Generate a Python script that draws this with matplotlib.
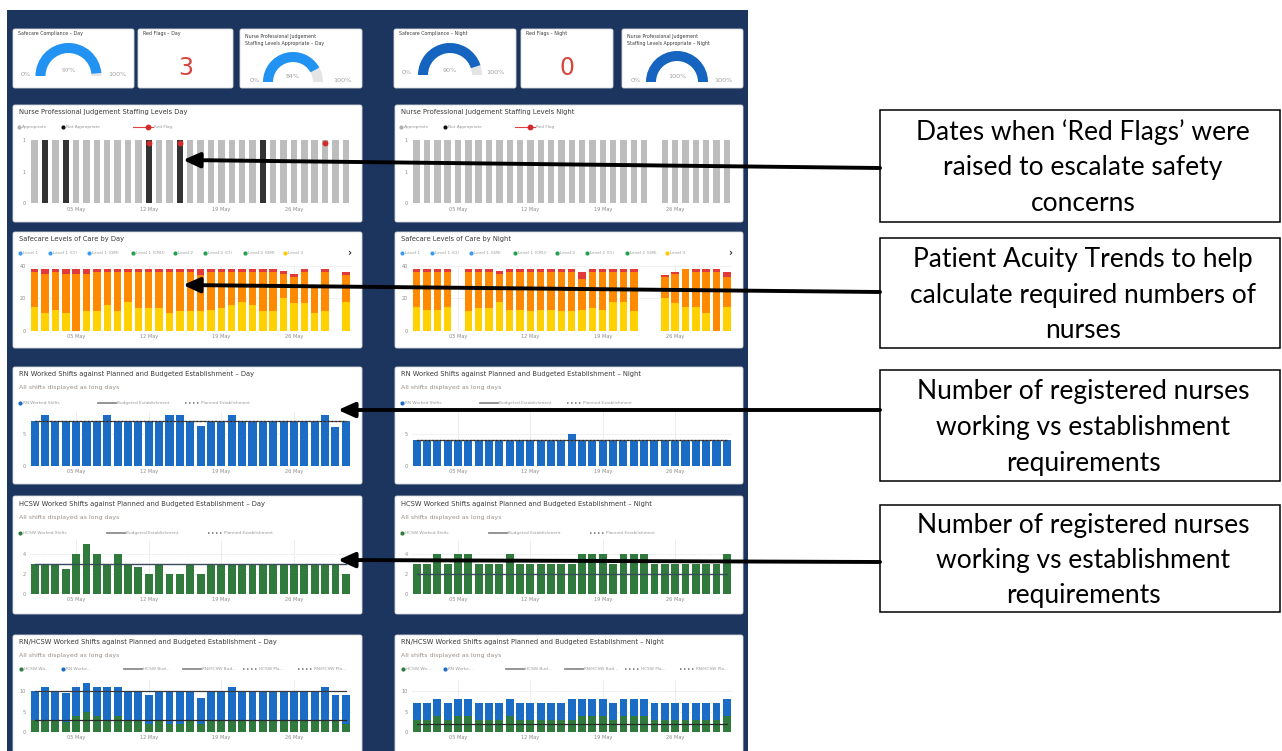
import numpy as np
import matplotlib
matplotlib.use("Agg")
import matplotlib.pyplot as plt
from matplotlib.patches import Rectangle, Wedge, FancyBboxPatch

W, H = 1282, 751
NAVY = "#1b355e"
TITLE_C = "#3c3c3c"
TICK_C = "#8a8a8a"

days = np.arange(1, 32)
week_ticks = [5, 12, 19, 26]
week_labels = ["05 May", "12 May", "19 May", "26 May"]

# headline cards
safecare_compliance_day = 97
safecare_compliance_night = 90
red_flags_day = 3
red_flags_night = 0
npj_appropriate_day = 84
npj_appropriate_night = 100

# nurse professional judgement by date
npj_not_appropriate_day = [2, 4, 12, 15, 23]
red_flag_dates_day = [12, 15, 29]
npj_no_return_night = [24]

# safecare levels of care (low / mid / high acuity bands)
sc_day_low = [15, 11, 13, 11, 0, 12, 12, 16, 12, 18, 14, 14, 14, 11, 12, 12,
              12, 13, 14, 16, 18, 16, 12, 12, 20, 17, 17, 11, 12, 0, 18]
sc_day_mid = [21, 24, 23, 24, 35, 23, 24, 20, 24, 18, 22, 22, 22, 25, 24, 24,
              22, 23, 22, 20, 18, 20, 24, 24, 15, 16, 19, 15.5, 24, 0, 16]
sc_day_high = [2, 3, 2, 3, 3, 3, 2, 2, 2, 2, 2, 2, 2, 2, 2, 2,
               4, 2, 2, 2, 2, 2, 2, 2, 2, 2, 2, 1.5, 2, 0, 2]
sc_night_low = [15, 13, 13, 15, 0, 12, 14, 14, 18, 13, 13, 12, 13, 13, 12, 12,
                13, 14, 13, 18, 18, 12, 0, 0, 20, 17, 15, 15, 11, 0, 15]
sc_night_mid = [21, 23, 23, 21, 0, 24, 22, 22, 17, 23, 23, 24, 23, 23, 24, 24,
                19, 22, 23, 18, 18, 24, 0, 0, 13, 18, 23, 21, 25, 36, 18]
sc_night_high = [2, 2, 2, 2, 0, 2, 2, 2, 2, 2, 2, 2, 2, 2, 2, 2,
                 4, 2, 2, 2, 2, 2, 0, 0, 1, 1, 0, 2, 2, 2, 3]

# worked shifts
rn_day = [7, 8, 7, 7, 7, 7, 7, 8, 7, 7, 7, 7, 7, 8, 8, 7,
          6.3, 7, 7, 8, 7, 7, 7, 7, 7, 7, 7, 7, 8, 6, 7]
rn_night = [4, 4, 4, 4, 4, 4, 4, 4, 4, 4, 4, 4, 4, 4, 4, 5,
            4, 4, 4, 4, 4, 4, 4, 4, 4, 4, 4, 4, 4, 4, 4]
hcsw_day = [3, 3, 3, 2.5, 4, 5, 4, 3, 4, 3, 2.7, 2, 3, 2, 2, 3,
            2, 3, 3, 3, 3, 3, 3, 3, 3, 3, 3, 3, 3, 3, 2]
hcsw_night = [3, 3, 4, 3, 4, 4, 3, 3, 3, 4, 3, 3, 3, 3, 3, 3,
              4, 4, 4, 3, 4, 4, 4, 3, 3, 3, 3, 3, 3, 3, 4]
rn_budget_day, rn_budget_night = 7, 4
hcsw_budget_day, hcsw_budget_night = 3, 2
rn_hcsw_budget_day = 10

fig = plt.figure(figsize=(W / 100, H / 100), dpi=100)
base = fig.add_axes([0, 0, 1, 1], zorder=0)
base.set_xlim(0, W)
base.set_ylim(H, 0)
base.axis("off")

base.add_patch(Rectangle((7, 10), 741, 745, color=NAVY, lw=0))


def card(x0, y0, x1, y1):
    base.add_patch(FancyBboxPatch((x0, y0), x1 - x0, y1 - y0,
                                  boxstyle="round,pad=0,rounding_size=2",
                                  fc="white", ec="#d8d8d8", lw=0.6))


def gauge(cx, cy, r, pct, color, left, mid, right):
    base.add_patch(Wedge((cx, cy), r, 180, 360, width=10, fc="#e4e4e4", lw=0))
    base.add_patch(Wedge((cx, cy), r, 180, 180 + 1.8 * pct, width=10, fc=color, lw=0))
    base.text(left, cy - 2, "0%", fontsize=4.6, color="#a0a0a0", ha="center", va="center")
    base.text(cx, cy - 5, f"{pct}%", fontsize=4.6, color="#a0a0a0", ha="center", va="center")
    base.text(right, cy - 2, "100%", fontsize=4.6, color="#a0a0a0", ha="center", va="center")


# top row of headline cards
for x0, x1 in [(13, 134), (138, 233), (240, 362), (394, 516), (521, 613), (622, 743)]:
    card(x0, 29, x1, 88)

base.text(18, 34, "Safecare Compliance – Day", fontsize=3.4, color=TITLE_C, va="center")
gauge(68.5, 76, 33, safecare_compliance_day, "#2393f3", 26, 68, 117)
base.text(143, 34, "Red Flags – Day", fontsize=3.4, color=TITLE_C, va="center")
base.text(186, 68, str(red_flags_day), fontsize=17, color="#d9453d", ha="center", va="center")
base.text(245, 34, "Nurse Professional Judgement\nStaffing Levels Appropriate – Day",
          fontsize=3.4, color=TITLE_C, va="top", linespacing=1.6)
gauge(293, 82, 30, npj_appropriate_day, "#2393f3", 255, 293, 342)

base.text(399, 34, "Safecare Compliance – Night", fontsize=3.4, color=TITLE_C, va="center")
gauge(450, 75, 32, safecare_compliance_night, "#1565c0", 407, 450, 495)
base.text(526, 34, "Red Flags – Night", fontsize=3.4, color=TITLE_C, va="center")
base.text(567, 68, str(red_flags_night), fontsize=17, color="#d9453d", ha="center", va="center")
base.text(627, 34, "Nurse Professional Judgement\nStaffing Levels Appropriate – Night",
          fontsize=3.4, color=TITLE_C, va="top", linespacing=1.6)
gauge(677, 82, 31, npj_appropriate_night, "#1565c0", 636, 677, 723)

cols = [(13, 362), (395, 743)]
rows = {"npj": (105, 222), "sc": (232, 348), "rn": (367, 484),
        "hcsw": (496, 614), "rnh": (635, 760)}
for key, (y0, y1) in rows.items():
    for x0, x1 in cols:
        card(x0, y0, x1, y1)


def chart(x0, x1, y_top, y_zero, ymax, yticks, ylabels, hgrid=False):
    ax = fig.add_axes([(x0 + 16.5) / W, 1 - y_zero / H,
                       (x1 - x0 - 27.5) / W, (y_zero - y_top) / H], zorder=1)
    ax.patch.set_alpha(0)
    ax.set_xlim(0.5, 31.5)
    ax.set_ylim(0, ymax)
    for s in ax.spines.values():
        s.set_visible(False)
    ax.set_xticks(week_ticks)
    ax.set_xticklabels(week_labels)
    ax.set_yticks(yticks)
    ax.set_yticklabels(ylabels)
    ax.tick_params(length=0, labelsize=3.6, colors=TICK_C, pad=2.5)
    if hgrid:
        for v in yticks[1:]:
            ax.axhline(v, color="#d0d0d0", lw=0.5, ls=(0, (1, 1.5)), zorder=0)
        for v in week_ticks:
            ax.axvline(v, color="#e6e6e6", lw=0.5, zorder=0)
    return ax


def title(x0, y, text, sub=None):
    base.text(x0 + 6, y, text, fontsize=4.9, color=TITLE_C, va="center")
    if sub:
        base.text(x0 + 6, y + 14, sub, fontsize=4.5, color="#9a8f86", va="center")


def dot(x, y, color, label):
    base.plot(x, y, "o", ms=3, color=color, mec="none")
    base.text(x + 3, y, label, fontsize=3.1, color="#9a9a9a", va="center")


def seg(x, y, label, dotted=False):
    if dotted:
        base.plot([x, x + 14], [y, y], color="#707070", lw=1.1, ls=(0, (1, 1.6)))
        base.text(x + 16, y, label, fontsize=3.1, color="#9a9a9a", va="center")
    else:
        base.plot([x, x + 18], [y, y], color="#8c8c8c", lw=1.3)
        base.text(x + 19, y, label, fontsize=3.1, color="#9a9a9a", va="center")


# Nurse professional judgement
for i, (x0, x1) in enumerate(cols):
    side = "Day" if i == 0 else "Night"
    title(x0, 112, f"Nurse Professional Judgement Staffing Levels {side}")
    dot(x0 + 6, 127, "#b0b0b0", "Appropriate")
    dot(x0 + 50, 127, "#111111", "Not Appropriate")
    base.plot([x0 + 120, x0 + 140], [127, 127], color="#e04040", lw=0.8)
    base.plot(x0 + 135, 127, "o", ms=3.2, color="#d42a2a")
    base.text(x0 + 141, 127, "Red Flag", fontsize=3.1, color="#9a9a9a", va="center")
    ax = chart(x0, x1, 140, 203.3, 1.0, [0, 0.5, 1], ["0", "1", "1"])
    if i == 0:
        colors = ["#333333" if d in npj_not_appropriate_day else "#bdbdbd" for d in days]
        ax.bar(days, 1, width=0.62, color=colors)
        ax.plot(red_flag_dates_day, [0.96] * len(red_flag_dates_day), "o",
                ms=3.2, color="#d42a2a", clip_on=False)
    else:
        heights = [0 if d in npj_no_return_night else 1 for d in days]
        ax.bar(days, heights, width=0.62, color="#bdbdbd")

# Safecare levels of care
sc_legend = [("Level 1", "#3d9cf0"), ("Level 1 (CI)", "#3d9cf0"), ("Level 1 (GM)", "#3d9cf0"),
             ("Level 1 (CRU)", "#20a24a"), ("Level 2", "#20a24a"), ("Level 2 (CI)", "#20a24a"),
             ("Level 2 (GM)", "#20a24a"), ("Level 3", "#ffc800")]
sc_offsets = [7, 37, 76, 120, 162, 192, 232, 272]
for i, (x0, x1) in enumerate(cols):
    side = "Day" if i == 0 else "Night"
    title(x0, 239, f"Safecare Levels of Care by {side}")
    for (lab, c), off in zip(sc_legend, sc_offsets):
        dot(x0 + off, 253, c, lab)
    base.text(x1 - 13, 253, "›", fontsize=7, color="#333333", ha="center", va="center",
              fontweight="bold")
    ax = chart(x0, x1, 265.7, 331, 40, [0, 20, 40], ["0", "20", "40"], hgrid=True)
    low, mid, high = ((sc_day_low, sc_day_mid, sc_day_high) if i == 0
                      else (sc_night_low, sc_night_mid, sc_night_high))
    low, mid, high = np.array(low), np.array(mid), np.array(high)
    ax.bar(days, low, width=0.72, color="#ffd100")
    ax.bar(days, mid, bottom=low, width=0.72, color="#ff8a00")
    ax.bar(days, high, bottom=low + mid, width=0.72, color="#e23a3a")

# RN worked shifts
for i, (x0, x1) in enumerate(cols):
    side = "Day" if i == 0 else "Night"
    title(x0, 374, f"RN Worked Shifts against Planned and Budgeted Establishment – {side}",
          "All shifts displayed as long days")
    dot(x0 + 7, 403, "#1a6cc4", "RN Worked Shifts")
    seg(x0 + 85, 403, "Budgeted Establishment")
    seg(x0 + 172, 403, "Planned Establishment", dotted=True)
    ax = chart(x0, x1, 412, 466, 8.4, [0, 5], ["0", "5"], hgrid=True)
    vals = rn_day if i == 0 else rn_night
    budget = rn_budget_day if i == 0 else rn_budget_night
    ax.bar(days, vals, width=0.78, color="#1a6cc4")
    ax.plot([1, 31], [budget, budget], color="#4a4a4a", lw=0.9)
    ax.plot([1, 31], [budget, budget], color="#222222", lw=0.9, ls=(0, (1, 2)))

# HCSW worked shifts
for i, (x0, x1) in enumerate(cols):
    side = "Day" if i == 0 else "Night"
    title(x0, 504, f"HCSW Worked Shifts against Planned and Budgeted Establishment – {side}",
          "All shifts displayed as long days")
    dot(x0 + 7, 533, "#2f7a3c", "HCSW Worked Shifts")
    seg(x0 + 94, 533, "Budgeted Establishment")
    seg(x0 + 195, 533, "Planned Establishment", dotted=True)
    ax = chart(x0, x1, 540, 594, 5.4, [0, 2, 4], ["0", "2", "4"], hgrid=True)
    vals = hcsw_day if i == 0 else hcsw_night
    budget = hcsw_budget_day if i == 0 else hcsw_budget_night
    ax.bar(days, vals, width=0.76, color="#2f7a3c")
    ax.plot([1, 31], [budget, budget], color="#3a4a5a", lw=1.0)

# RN/HCSW worked shifts
for i, (x0, x1) in enumerate(cols):
    side = "Day" if i == 0 else "Night"
    title(x0, 642, f"RN/HCSW Worked Shifts against Planned and Budgeted Establishment – {side}",
          "All shifts displayed as long days")
    dot(x0 + 8, 669, "#2f7a3c", "HCSW Wo...")
    dot(x0 + 50, 669, "#1a6cc4", "RN Worke...")
    seg(x0 + 111, 669, "HCSW Bud...")
    seg(x0 + 170, 669, "RN/HCSW Bud...")
    seg(x0 + 230, 669, "HCSW Pla...", dotted=True)
    seg(x0 + 285, 669, "RN/HCSW Pla...", dotted=True)
    ax = chart(x0, x1, 680, 732, 12.7, [0, 5, 10], ["0", "5", "10"], hgrid=True)
    hc = np.array(hcsw_day if i == 0 else hcsw_night)
    rn = np.array(rn_day if i == 0 else rn_night)
    ax.bar(days, hc, width=0.76, color="#2f7a3c")
    ax.bar(days, rn, bottom=hc, width=0.76, color="#1a6cc4")
    hb = hcsw_budget_day if i == 0 else hcsw_budget_night
    ax.plot([1, 31], [hb, hb], color="#2a2a2a", lw=0.9)
    if i == 0:
        ax.plot([1, 31], [rn_hcsw_budget_day] * 2, color="#3a3a3a", lw=0.9)

# call-out boxes and arrows
top = fig.add_axes([0, 0, 1, 1], zorder=3)
top.set_xlim(0, W)
top.set_ylim(H, 0)
top.axis("off")

callouts = [
    ((110, 222), ["Dates when \u2018Red Flags\u2019 were", "raised to escalate safety", "concerns"],
     (183, 160), 168),
    ((238, 348), ["Patient Acuity Trends to help", "calculate required numbers of", "nurses"],
     (183, 285), 292),
    ((370, 481), ["Number of registered nurses", "working vs establishment", "requirements"],
     (338, 410), 410),
    ((505, 612), ["Number of registered nurses", "working vs establishment", "requirements"],
     (338, 560), 562),
]
for (y0, y1), lines, tip, tail_y in callouts:
    top.add_patch(Rectangle((880, y0), 400, y1 - y0, fc="white", ec="black", lw=1.1))
    cy = (y0 + y1) / 2 + 2
    for k, line in enumerate(lines):
        top.text(1083, cy + (k - 1) * 35.5, line, fontsize=19, family="Lato",
                 ha="center", va="center", color="black")
    top.annotate("", xy=tip, xytext=(880, tail_y),
                 arrowprops=dict(arrowstyle="-|>,head_length=10,head_width=4.5",
                                 mutation_scale=1, lw=2.8, color="black",
                                 shrinkA=0, shrinkB=0))

fig.savefig("out.png", dpi=100)
